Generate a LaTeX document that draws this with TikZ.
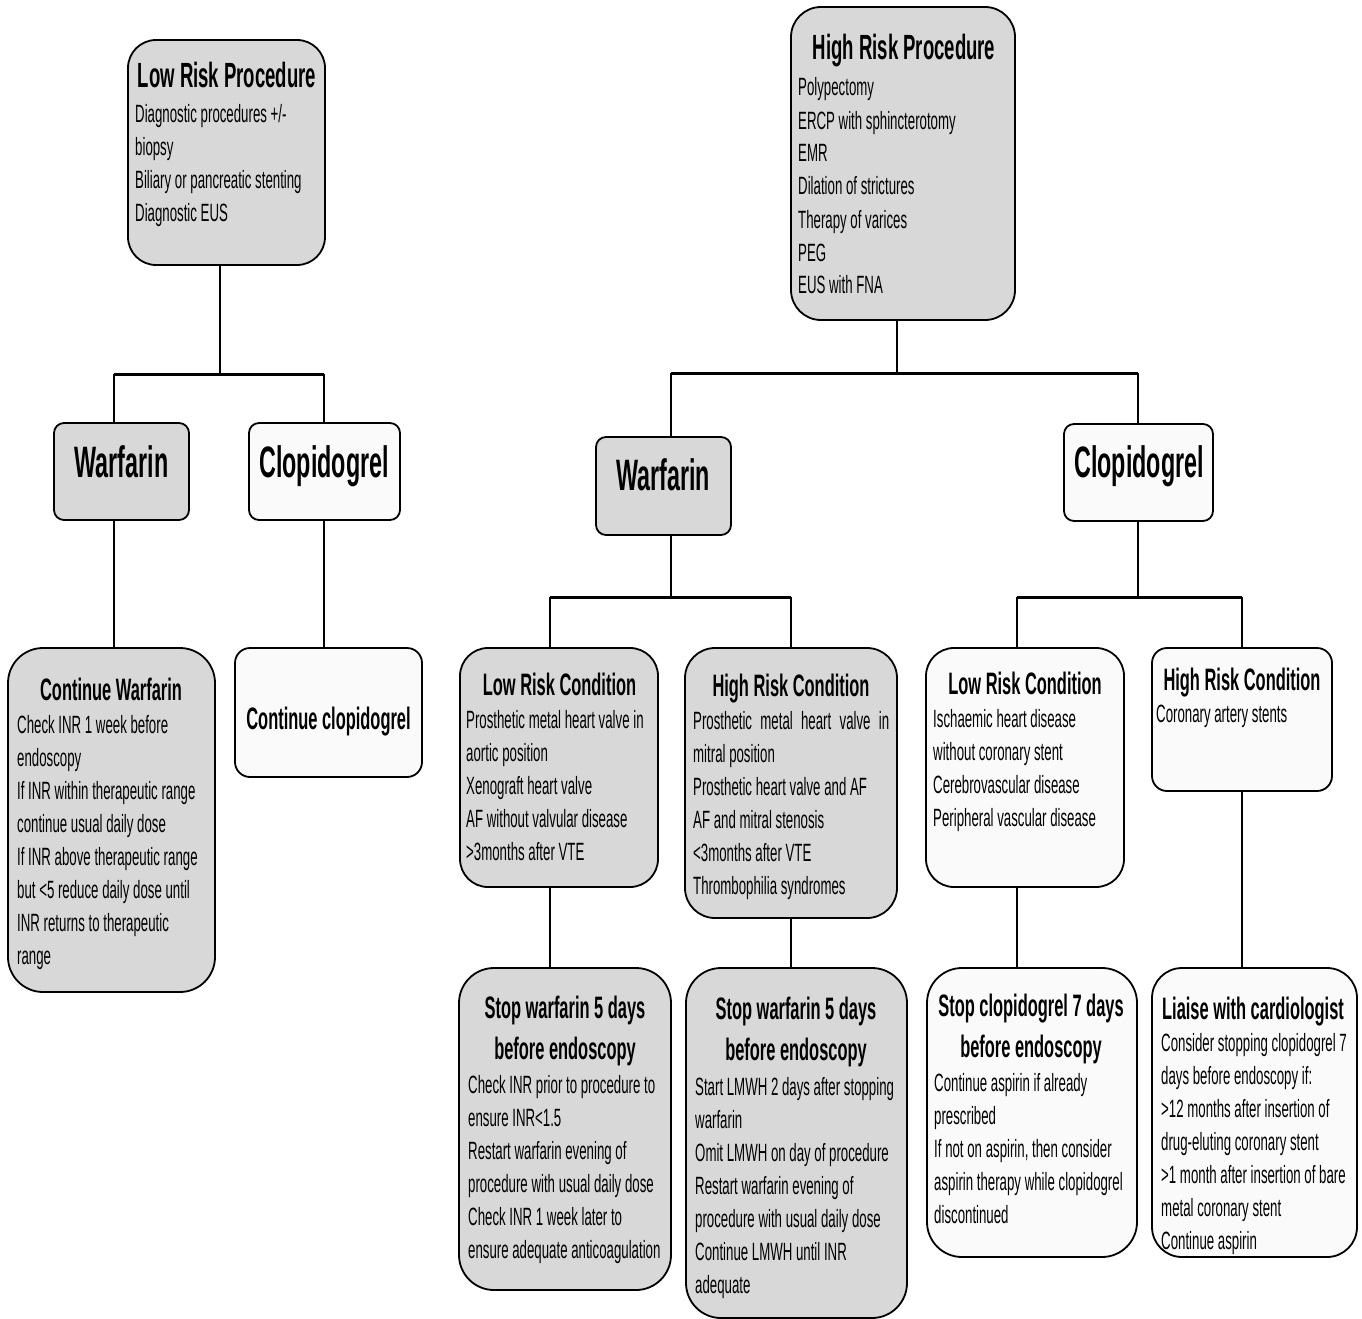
\documentclass[tikz,border=0pt]{standalone}
\usepackage{fontspec}
\setmainfont[FakeStretch=0.53]{Liberation Sans}
\usetikzlibrary{fit}
\definecolor{boxgray}{HTML}{D8D8D8}
\definecolor{boxwhite}{HTML}{FAFAFA}
\newcommand\fsB{\fontsize{25}{33}\selectfont}
\newcommand\fsT{\fontsize{31}{36}\selectfont\bfseries}
\newcommand\fsP{\fontsize{35}{40}\selectfont\bfseries}
\newcommand\fsD{\fontsize{44}{50}\selectfont\bfseries}
\newcommand\bline[1]{\hbox{#1}}
\newcommand\txtlines[1]{\vtop{\baselineskip=33pt\lineskiplimit=-100pt\lineskip=0pt #1}}
\newcommand\ctitle[3]{\vtop{\baselineskip=41pt\lineskiplimit=-100pt\lineskip=0pt\hbox to 220pt{\hfil #2\hfil}\hbox to 220pt{\hfil #3\hfil}}}
\tikzset{
  boxbase/.style={draw=black, line width=1.8pt, inner sep=0pt},
  gbox/.style={boxbase, fill=boxgray},
  wbox/.style={boxbase, fill=boxwhite},
  ttlT/.style={anchor=base, inner sep=0pt, font=\fsT},
  ttlP/.style={anchor=base, inner sep=0pt, font=\fsP},
  ttlD/.style={anchor=base, inner sep=0pt, font=\fsD},
  body/.style={anchor=base west, inner sep=0pt, font=\fsB},
  conn/.style={line width=1.6pt},
  bar/.style={line width=3pt}
}
\begin{document}
\begin{tikzpicture}[x=1pt,y=-1pt]
\useasboundingbox (0,0) rectangle (1362,1319);

% ---------- Low risk procedure branch ----------
\node[gbox, rounded corners=28pt, fit={(128,40)(325,265)}] (lrp) {};
\node[ttlP] (lrpt) at (227,88) {Low Risk Procedure};
\node[body] (lrpb) at (135,123) {\txtlines{\bline{Diagnostic procedures +/-}\bline{biopsy}\bline{Biliary or pancreatic stenting}\bline{Diagnostic EUS}}};

\node[gbox, rounded corners=10pt, fit={(54,423)(189,520)}] (wl) {};
\node[ttlD] (wlt) at (121.5,477) {Warfarin};
\node[wbox, rounded corners=10pt, fit={(249,423)(400,520)}] (cl) {};
\node[ttlD] (clt) at (324,477) {Clopidogrel};

\node[gbox, rounded corners=35pt, fit={(8,648)(215,992)}] (cw) {};
\node[ttlT] (cwt) at (111,700) {Continue Warfarin};
\node[body] (cwb) at (17,733) {\txtlines{\bline{Check INR 1 week before}\bline{endoscopy}\bline{If INR within therapeutic range}\bline{continue usual daily dose}\bline{If INR above therapeutic range}\bline{but <5 reduce daily dose until}\bline{INR returns to therapeutic}\bline{range}}};

\node[wbox, rounded corners=15pt, fit={(235,648)(422,777)}] (cc) {};
\node[ttlT] (cct) at (328.5,729) {Continue clopidogrel};

% ---------- High risk procedure branch ----------
\node[gbox, rounded corners=30pt, fit={(791,7)(1015,320)}] (hrp) {};
\node[ttlP] (hrpt) at (904,60) {High Risk Procedure};
\node[body] (hrpb) at (798,96) {\txtlines{\bline{Polypectomy}\bline{ERCP with sphincterotomy}\bline{EMR}\bline{Dilation of strictures}\bline{Therapy of varices}\bline{PEG}\bline{EUS with FNA}}};

\node[gbox, rounded corners=10pt, fit={(596,437)(731,535)}] (wr) {};
\node[ttlD] (wrt) at (663,490) {Warfarin};
\node[wbox, rounded corners=10pt, fit={(1064,424)(1213,521)}] (cr) {};
\node[ttlD] (crt) at (1139,477) {Clopidogrel};

\node[gbox, rounded corners=28pt, fit={(460,648)(658,887)}] (lrw) {};
\node[ttlT] (lrwt) at (559.5,695) {Low Risk Condition};
\node[body] (lrwb) at (466,728) {\txtlines{\bline{Prosthetic metal heart valve in}\bline{aortic position}\bline{Xenograft heart valve}\bline{AF without valvular disease}\bline{>3months after VTE}}};

\node[gbox, rounded corners=30pt, fit={(685,648)(897,918)}] (hrw) {};
\node[ttlT] (hrwt) at (791,696) {High Risk Condition};
\node[body] (hrwb) at (693,729) {\txtlines{\hbox to 196pt{Prosthetic\hfill metal\hfill heart\hfill valve\hfill in}\bline{mitral position}\bline{Prosthetic heart valve and AF}\bline{AF and mitral stenosis}\bline{<3months after VTE}\bline{Thrombophilia syndromes}}};

\node[wbox, rounded corners=28pt, fit={(926,648)(1124,887)}] (lrc) {};
\node[ttlT] (lrct) at (1025,694) {Low Risk Condition};
\node[body] (lrcb) at (933,727) {\txtlines{\bline{Ischaemic heart disease}\bline{without coronary stent}\bline{Cerebrovascular disease}\bline{Peripheral vascular disease}}};

\node[wbox, rounded corners=15pt, fit={(1152,648)(1332,791)}] (hrc) {};
\node[ttlT] (hrct) at (1242,690) {High Risk Condition};
\node[body] (hrcb) at (1156,722) {\txtlines{\bline{Coronary artery stents}}};

\node[gbox, rounded corners=35pt, fit={(459,968)(671,1290)}] (sw1) {};
\node[ttlT] (sw1t) at (565,1018) {\ctitle{}{Stop warfarin 5 days}{before endoscopy}};
\node[body] (sw1b) at (468,1093) {\txtlines{\bline{Check INR prior to procedure to}\bline{ensure INR<1.5}\bline{Restart warfarin evening of}\bline{procedure with usual daily dose}\bline{Check INR 1 week later to}\bline{ensure adequate anticoagulation}}};

\node[gbox, rounded corners=35pt, fit={(686,968)(907,1318)}] (sw2) {};
\node[ttlT] (sw2t) at (796,1019) {\ctitle{}{Stop warfarin 5 days}{before endoscopy}};
\node[body] (sw2b) at (695,1095) {\txtlines{\bline{Start LMWH 2 days after stopping}\bline{warfarin}\bline{Omit LMWH on day of procedure}\bline{Restart warfarin evening of}\bline{procedure with usual daily dose}\bline{Continue LMWH until INR}\bline{adequate}}};

\node[wbox, rounded corners=35pt, fit={(927,968)(1137,1257)}] (sc) {};
\node[ttlT] (sct) at (1031,1016) {\ctitle{}{Stop clopidogrel 7 days}{before endoscopy}};
\node[body] (scb) at (934,1091) {\txtlines{\bline{Continue aspirin if already}\bline{prescribed}\bline{If not on aspirin, then consider}\bline{aspirin therapy while clopidogrel}\bline{discontinued}}};

\node[wbox, rounded corners=30pt, fit={(1152,968)(1357,1257)}] (lc) {};
\node[ttlT] (lct) at (1253,1019) {Liaise with cardiologist};
\node[body] (lcb) at (1161,1051) {\txtlines{\bline{Consider stopping clopidogrel 7}\bline{days before endoscopy if:}\bline{>12 months after insertion of}\bline{drug-eluting coronary stent}\bline{>1 month after insertion of bare}\bline{metal coronary stent}\bline{Continue aspirin}}};

% ---------- connectors ----------
\coordinate (a1) at (220,374);
\coordinate (a2) at (114,374);
\coordinate (a3) at (324,374);
\draw[conn] (a1 |- lrp.south) -- (a1);
\draw[bar] (a2) -- (a3);
\draw[conn] (a2) -- (a2 |- wl.north);
\draw[conn] (a3) -- (a3 |- cl.north);
\draw[conn] (a2 |- wl.south) -- (a2 |- cw.north);
\draw[conn] (a3 |- cl.south) -- (a3 |- cc.north);

\coordinate (b1) at (897,373);
\coordinate (b2) at (671,373);
\coordinate (b3) at (1138,373);
\draw[conn] (b1 |- hrp.south) -- (b1);
\draw[bar] (b2) -- (b3);
\draw[conn] (b2) -- (b2 |- wr.north);
\draw[conn] (b3) -- (b3 |- cr.north);

\coordinate (c0) at (671,597);
\coordinate (c1) at (550,597);
\coordinate (c2) at (791,597);
\draw[conn] (c0 |- wr.south) -- (c0);
\draw[bar] (c1) -- (c2);
\draw[conn] (c1) -- (c1 |- lrw.north);
\draw[conn] (c2) -- (c2 |- hrw.north);
\draw[conn] (c1 |- lrw.south) -- (c1 |- sw1.north);
\draw[conn] (c2 |- hrw.south) -- (c2 |- sw2.north);

\coordinate (d0) at (1138,597);
\coordinate (d1) at (1017,597);
\coordinate (d2) at (1242,597);
\draw[conn] (d0 |- cr.south) -- (d0);
\draw[bar] (d1) -- (d2);
\draw[conn] (d1) -- (d1 |- lrc.north);
\draw[conn] (d2) -- (d2 |- hrc.north);
\draw[conn] (d1 |- lrc.south) -- (d1 |- sc.north);
\draw[conn] (d2 |- hrc.south) -- (d2 |- lc.north);
\end{tikzpicture}
\end{document}
